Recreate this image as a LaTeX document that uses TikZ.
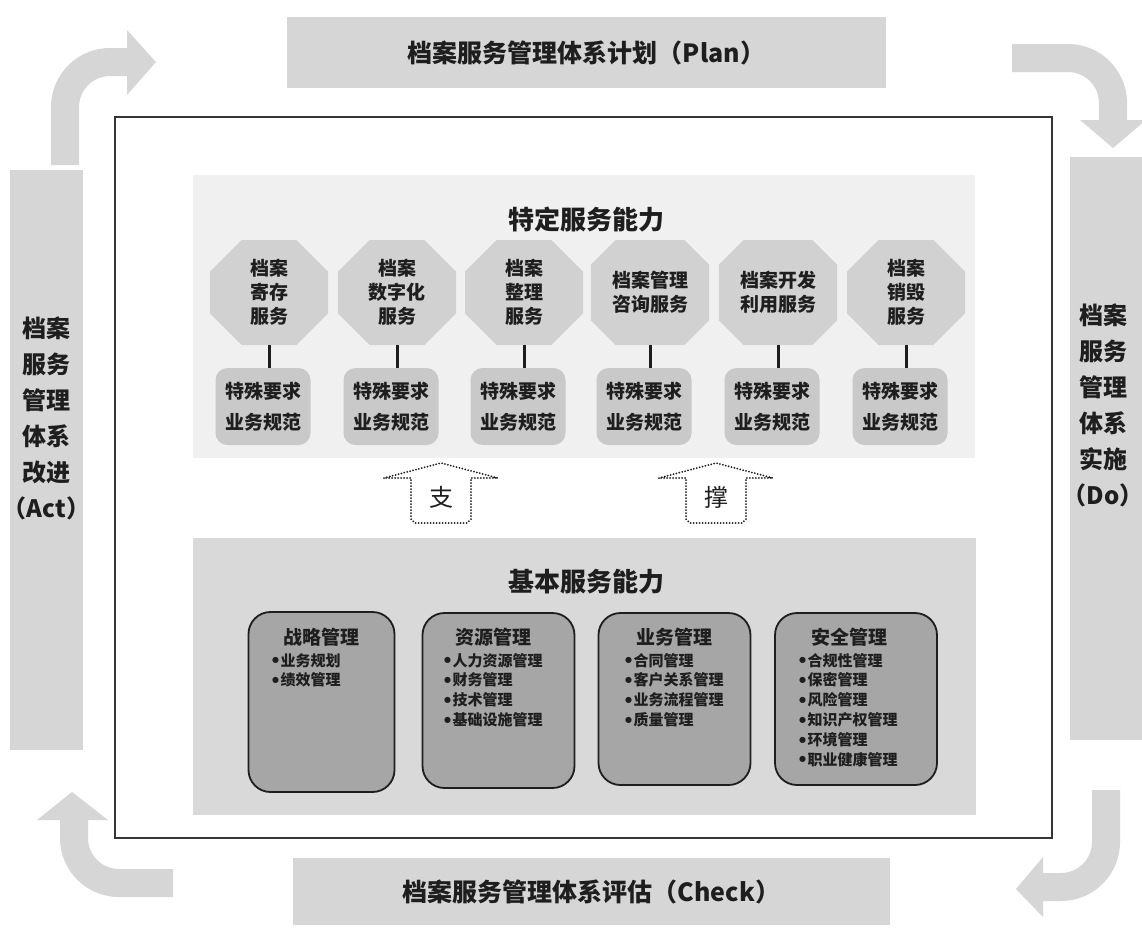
\documentclass[tikz,border=0pt]{standalone}
\usepackage{fontspec}
\setmainfont{Noto Sans CJK SC}
\newfontfamily\dotfont{DejaVu Sans}
\usetikzlibrary{shapes.misc,positioning,calc}
\definecolor{pdcagray}{HTML}{D6D6D6}
\definecolor{specgray}{HTML}{F0F0F0}
\definecolor{octgray}{HTML}{D1D1D1}
\definecolor{reqgray}{HTML}{C9C9C9}
\definecolor{basegray}{HTML}{D9D9D9}
\definecolor{mgmtgray}{HTML}{A6A6A6}
\definecolor{inkgray}{HTML}{1E1E1E}
\newcommand\itemdot{\raisebox{3.2pt}{\dotfont\fontsize{8}{8}\selectfont ●}\kern1.5pt}
\tikzset{
  pdcabox/.style={fill=pdcagray, inner sep=0pt, text=inkgray, font=\fontsize{25}{30}\selectfont\bfseries},
  sidetext/.style={align=center, inner sep=0pt, text=inkgray, font=\fontsize{24}{36}\selectfont\bfseries},
  flow/.style={draw=pdcagray, line width=28pt, rounded corners=45pt},
  areatitle/.style={inner sep=0pt, text=inkgray, font=\fontsize{26}{30}\selectfont\bfseries},
  octa/.style={chamfered rectangle, chamfered rectangle angle=45, chamfered rectangle xsep=28pt,
    fill=octgray, minimum width=118pt, minimum height=105pt, inner sep=0pt, align=center,
    text=inkgray, font=\fontsize{19}{24}\selectfont\bfseries},
  req/.style={fill=reqgray, rounded corners=12pt, minimum width=95pt, minimum height=77pt,
    inner sep=0pt, align=center, text=inkgray, font=\fontsize{19}{31}\selectfont\bfseries},
  link/.style={draw=inkgray, line width=3pt},
  support/.style={draw=inkgray, line width=2pt, dash pattern=on 0pt off 3pt, line cap=round},
  supporttext/.style={inner sep=0pt, text=inkgray, font=\fontsize{24}{28}\selectfont},
  mgmt/.style={draw=inkgray, line width=1.8pt, rounded corners=22pt, fill=mgmtgray, inner sep=0pt},
  mgmttitle/.style={inner sep=0pt, text=inkgray, font=\fontsize{19}{24}\selectfont\bfseries},
  items/.style={inner sep=0pt, align=left, anchor=north west, text=inkgray, font=\fontsize{15}{19.8}\selectfont\bfseries}
}
\begin{document}
\begin{tikzpicture}[x=1pt, y=-1pt]
\useasboundingbox (0,0) rectangle (1142,927);
\fill[white] (0,0) rectangle (1142,927);

% PDCA boxes
\node[pdcabox, minimum width=599pt, minimum height=71pt] (plan) at (586.5,52.5) {档案服务管理体系计划（Plan）};
\node[pdcabox, minimum width=597pt, minimum height=67pt] (check) at (591.5,891.5) {档案服务管理体系评估（Check）};
\node[pdcabox, minimum width=73pt, minimum height=580pt] (actbox) at (46.5,460) {};
\node[sidetext] (act) at (46.5,418) {档案\\服务\\管理\\体系\\改进\\\makebox[60pt]{（Act）}};
\node[pdcabox, minimum width=72pt, minimum height=583pt] (dobox) at (1106,448.5) {};
\node[sidetext] (do) at (1103,405) {档案\\服务\\管理\\体系\\实施\\\makebox[60pt]{（Do）}};

% corner arrows
\draw[flow] (65,165) -- (65,62) -- (128,62);
\fill[pdcagray] (127,30) -- (156,62) -- (127,95) -- cycle;
\draw[flow] (1012,58) -- (1113,58) -- (1113,121);
\fill[pdcagray] (1080,120) -- (1113,148) -- (1146,120) -- cycle;
\draw[flow] (1106,790) -- (1106,887) -- (1042,887);
\fill[pdcagray] (1043,857) -- (1016,889) -- (1043,917) -- cycle;
\draw[flow] (173,883) -- (74,883) -- (74,819);
\fill[pdcagray] (37,820) -- (72,792) -- (108,820) -- cycle;

% frame
\draw[draw=inkgray!90, line width=2.5pt] (115,117) rectangle (1052,838);

% specific services
\fill[specgray] (193,175) rectangle (975,458);
\node[areatitle] (spec) at (586,220) {特定服务能力};

\node[octa] (o1) at (269,292.5) {档案\\寄存\\服务};
\node[octa] (o2) at (397,292.5) {档案\\数字化\\服务};
\node[octa] (o3) at (524,292.5) {档案\\整理\\服务};
\node[octa] (o4) at (650,292.5) {档案管理\\咨询服务};
\node[octa] (o5) at (778,292.5) {档案开发\\利用服务};
\node[octa] (o6) at (906,292.5) {档案\\销毁\\服务};

\node[req] (r1) at (263,406.5) {特殊要求\\业务规范};
\node[req] (r2) at (391,406.5) {特殊要求\\业务规范};
\node[req] (r3) at (518,406.5) {特殊要求\\业务规范};
\node[req] (r4) at (644,406.5) {特殊要求\\业务规范};
\node[req] (r5) at (772,406.5) {特殊要求\\业务规范};
\node[req] (r6) at (900,406.5) {特殊要求\\业务规范};

\draw[link] (o1.south) -- (o1.south |- r1.north);
\draw[link] (o2.south) -- (o2.south |- r2.north);
\draw[link] (o3.south) -- (o3.south |- r3.north);
\draw[link] (o4.south) -- (o4.south |- r4.north);
\draw[link] (o5.south) -- (o5.south |- r5.north);
\draw[link] (o6.south) -- (o6.south |- r6.north);

% support arrows
\foreach \cx/\word/\name in {441/支/zhi, 716/撑/cheng}{
  \draw[support] (\cx-57,478) -- (\cx,463) -- (\cx+57,478) -- (\cx+30,478) -- (\cx+30,519)
    -- (\cx+26,523) -- (\cx-26,523) -- (\cx-30,519) -- (\cx-30,478) -- cycle;
  \node[supporttext] (\name) at (\cx,497) {\word};
}

% basic services
\fill[basegray] (193,538) rectangle (976,815);
\node[areatitle] (basic) at (586,582) {基本服务能力};

\node[mgmt, minimum width=146pt, minimum height=180pt] (strat) at (321.5,702) {};
\node[mgmt, minimum width=152pt, minimum height=175pt] (res) at (498.5,700.5) {};
\node[mgmt, minimum width=152pt, minimum height=172pt] (biz) at (674.5,699) {};
\node[mgmt, minimum width=162pt, minimum height=172pt] (safe) at (856,699) {};

\node[mgmttitle] at ($(strat.north)+(0,26)$) {战略管理};
\node[mgmttitle] at ($(res.north)+(-5,25)$) {资源管理};
\node[mgmttitle] at ($(biz.north)+(0,25)$) {业务管理};
\node[mgmttitle] at ($(safe.north)+(-7,25)$) {安全管理};

\node[items] (stratlist) at (272,653) {\itemdot 业务规划\\\itemdot 绩效管理};
\node[items] (reslist) at (444,653) {\itemdot 人力资源管理\\\itemdot 财务管理\\\itemdot 技术管理\\\itemdot 基础设施管理};
\node[items] (bizlist) at (625,653) {\itemdot 合同管理\\\itemdot 客户关系管理\\\itemdot 业务流程管理\\\itemdot 质量管理};
\node[items] (safelist) at (799,653) {\itemdot 合规性管理\\\itemdot 保密管理\\\itemdot 风险管理\\\itemdot 知识产权管理\\\itemdot 环境管理\\\itemdot 职业健康管理};

\end{tikzpicture}
\end{document}
